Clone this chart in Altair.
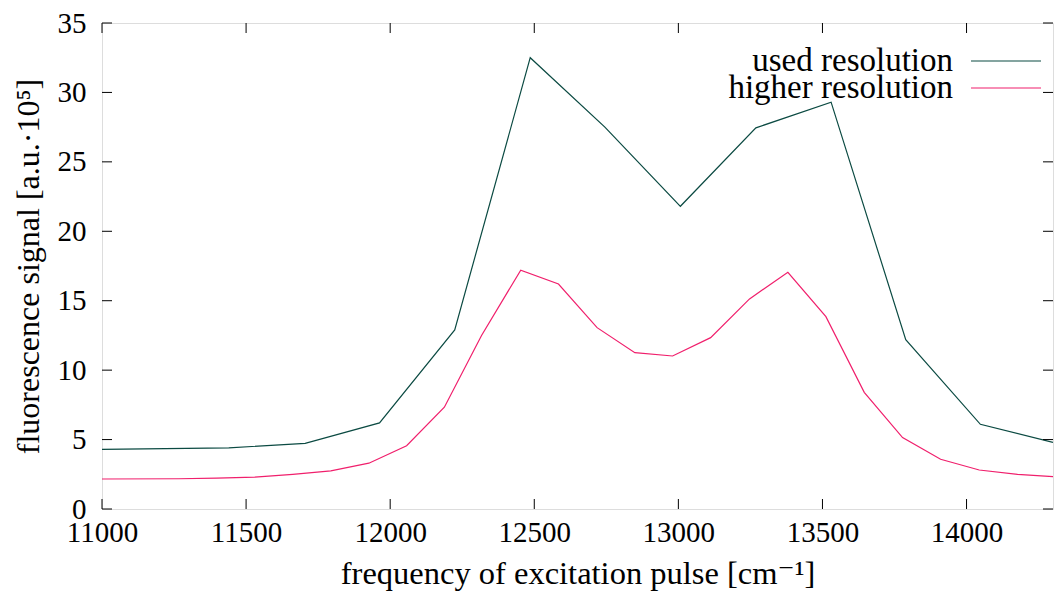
import altair as alt
import pandas as pd

# --- data ---
used_freq = [11000, 11440, 11705, 11963, 12224, 12486, 12745, 13007, 13269, 13530, 13789, 14048, 14300]
used_val = [4.30, 4.40, 4.73, 6.20, 12.90, 32.50, 27.50, 21.80, 27.45, 29.30, 12.20, 6.10, 4.80]

high_freq = [11000, 11266, 11398, 11530, 11662, 11794, 11926, 12057, 12188, 12317, 12453, 12584,
             12718, 12849, 12980, 13112, 13247, 13380, 13512, 13645, 13778, 13910, 14044, 14177, 14300]
high_val = [2.16, 2.18, 2.22, 2.30, 2.50, 2.74, 3.30, 4.56, 7.33, 12.50, 17.20, 16.20,
            13.06, 11.26, 11.02, 12.34, 15.13, 17.05, 13.85, 8.40, 5.14, 3.58, 2.81, 2.50, 2.33]

series_names = ["used resolution", "higher resolution"]
series_colors = ["#0b4a42", "#f01f6c"]

x_ticks = [11000, 11500, 12000, 12500, 13000, 13500, 14000]
y_ticks = [0, 5, 10, 15, 20, 25, 30, 35]

x_domain = [11000, 14300]
y_domain = [0, 35]

W, H = 951, 486
FONT = "'Liberation Serif', 'Times New Roman', 'DejaVu Serif', serif"

df = pd.concat([
    pd.DataFrame({"freq": used_freq, "val": used_val, "series": series_names[0], "order": range(len(used_freq))}),
    pd.DataFrame({"freq": high_freq, "val": high_val, "series": series_names[1], "order": range(len(high_freq))}),
])

xs = alt.Scale(domain=x_domain, nice=False, zero=False)
ys = alt.Scale(domain=y_domain, nice=False)

x_axis = alt.Axis(values=x_ticks, ticks=False, tickSize=0, grid=False, domain=False,
                  labelFont=FONT, labelFontSize=29, labelColor="black", labelPadding=9,
                  title="frequency of excitation pulse [cm⁻¹]", titleFont=FONT, titleFontSize=32.5,
                  titleFontWeight="normal", titleColor="black", titlePadding=10, format="d",
                  labelFlush=False)
y_axis = alt.Axis(values=y_ticks, ticks=False, tickSize=0, grid=False, domain=False,
                  labelFont=FONT, labelFontSize=29, labelColor="black", labelPadding=16,
                  title="fluorescence signal [a.u.·10⁵]", titleFont=FONT, titleFontSize=32,
                  titleFontWeight="normal", titleColor="black", titlePadding=12,
                  labelFlush=False)

lines = alt.Chart(df).mark_line(strokeWidth=1.2, clip=True).encode(
    x=alt.X("freq:Q", scale=xs, axis=x_axis),
    y=alt.Y("val:Q", scale=ys, axis=y_axis),
    color=alt.Color("series:N", scale=alt.Scale(domain=series_names, range=series_colors), legend=None),
    order="order:O",
)

xt = pd.DataFrame({"v": x_ticks})
yt = pd.DataFrame({"v": y_ticks})
TL = 10
tick_style = dict(color="black", strokeWidth=1)

bottom_ticks = alt.Chart(xt).mark_rule(**tick_style).encode(
    x=alt.X("v:Q", scale=xs), y=alt.value(H), y2=alt.value(H - TL))
top_ticks = alt.Chart(xt).mark_rule(**tick_style).encode(
    x=alt.X("v:Q", scale=xs), y=alt.value(0), y2=alt.value(TL))
left_ticks = alt.Chart(yt).mark_rule(**tick_style).encode(
    y=alt.Y("v:Q", scale=ys), x=alt.value(0), x2=alt.value(TL))
right_ticks = alt.Chart(yt).mark_rule(**tick_style).encode(
    y=alt.Y("v:Q", scale=ys), x=alt.value(W), x2=alt.value(W - TL))

# legend (top right, label left of sample line)
legend_layers = []
for i, (name, col) in enumerate(zip(series_names, series_colors)):
    ly = 38 + 27 * i
    ldf = pd.DataFrame({"series": [name]})
    legend_layers.append(alt.Chart(ldf).mark_text(
        align="right", baseline="middle", font=FONT, fontSize=33, color="black"
    ).encode(text="series:N", x=alt.value(W - 100), y=alt.value(ly)))
    legend_layers.append(alt.Chart(ldf).mark_rule(color=col, strokeWidth=1.2).encode(
        x=alt.value(W - 82), x2=alt.value(W - 12), y=alt.value(ly)))

chart = alt.layer(lines, bottom_ticks, top_ticks, left_ticks, right_ticks, *legend_layers).properties(
    width=W, height=H,
    autosize=alt.AutoSizeParams(type="none"),
    padding={"left": 102, "top": 23, "right": 1, "bottom": 89},
).configure_view(stroke="black", strokeWidth=1.2).configure(background="white")

chart.save("out.html", embed_options={"renderer": "svg", "actions": False})
